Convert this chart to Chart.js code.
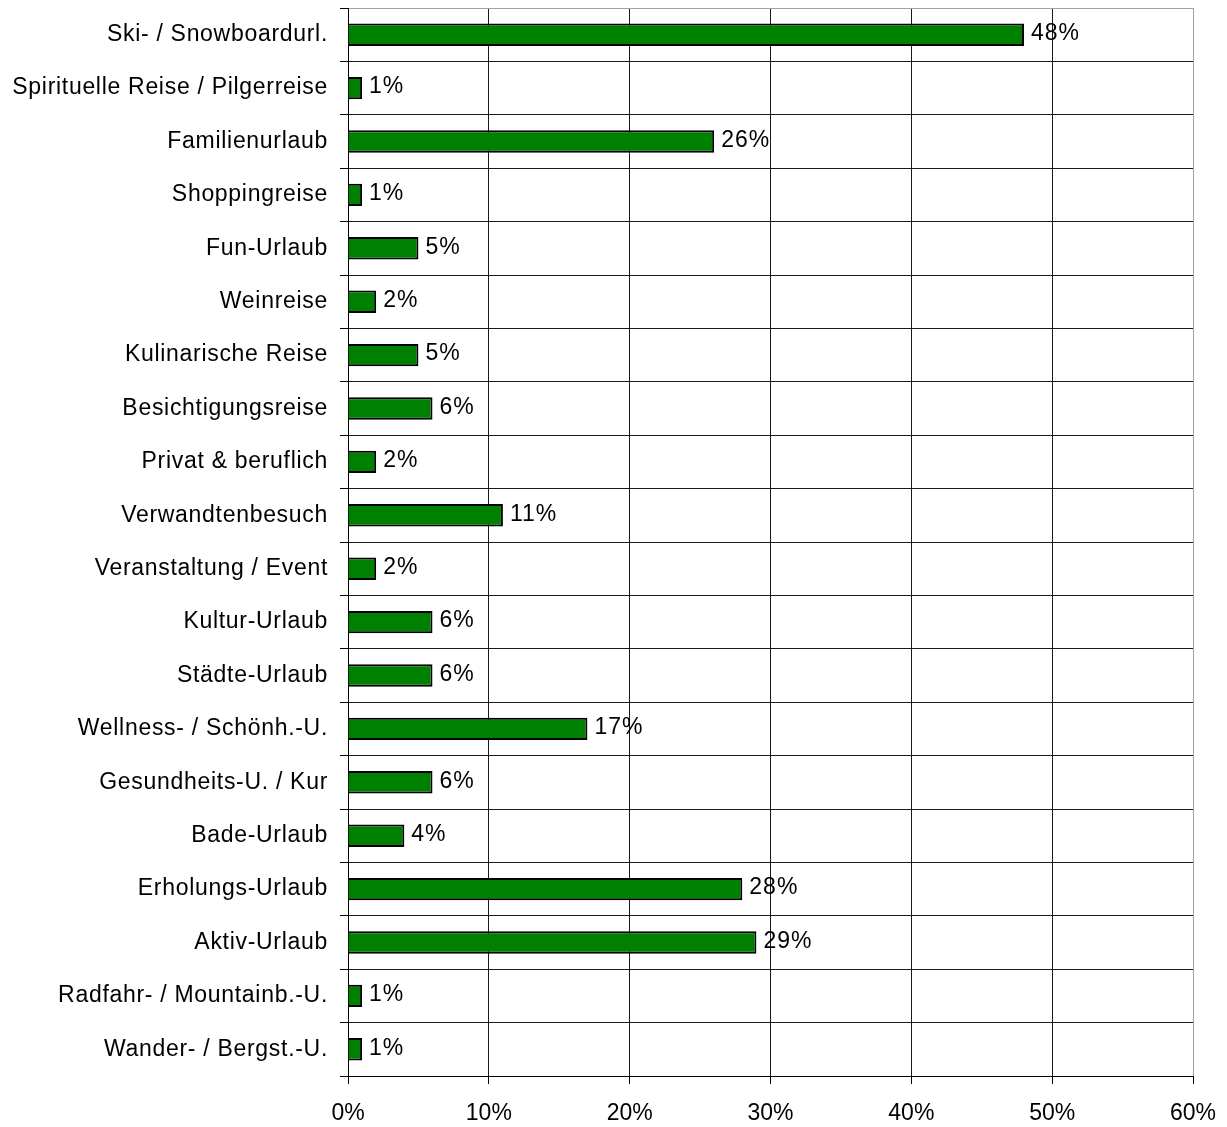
<!DOCTYPE html>
<html>
<head>
<meta charset="utf-8">
<script src="https://cdn.jsdelivr.net/npm/chart.js@4"></script>
<style>
html,body{margin:0;padding:0;background:#fff;}
#wrap{width:1227px;height:1127px;position:relative;}
</style>
</head>
<body>
<div id="wrap"><canvas id="c"></canvas></div>
<script>
const categories = [
  "Ski- / Snowboardurl.",
  "Spirituelle Reise / Pilgerreise",
  "Familienurlaub",
  "Shoppingreise",
  "Fun-Urlaub",
  "Weinreise",
  "Kulinarische Reise",
  "Besichtigungsreise",
  "Privat & beruflich",
  "Verwandtenbesuch",
  "Veranstaltung / Event",
  "Kultur-Urlaub",
  "Städte-Urlaub",
  "Wellness- / Schönh.-U.",
  "Gesundheits-U. / Kur",
  "Bade-Urlaub",
  "Erholungs-Urlaub",
  "Aktiv-Urlaub",
  "Radfahr- / Mountainb.-U.",
  "Wander- / Bergst.-U."
];
const values = [48, 1, 26, 1, 5, 2, 5, 6, 2, 11, 2, 6, 6, 17, 6, 4, 28, 29, 1, 1];
const xTicks = [0, 10, 20, 30, 40, 50, 60];

const FONT = "'Liberation Sans', Arial, sans-serif";

const labelPlugin = {
  id: 'valueLabels',
  afterDatasetsDraw(chart) {
    const ctx = chart.ctx;
    const meta = chart.getDatasetMeta(0);
    ctx.save();
    ctx.font = "23px " + FONT;
    ctx.letterSpacing = "1px";
    ctx.fillStyle = "#000";
    ctx.textAlign = "left";
    ctx.textBaseline = "middle";
    meta.data.forEach((el, i) => {
      ctx.fillText(values[i] + "%", el.x + 7, el.y - 1);
    });
    ctx.restore();
  }
};

function wrapLabels(scale, spacing) {
  if (scale._lsWrapped) return;
  const orig = scale.drawLabels.bind(scale);
  scale.drawLabels = function (area) {
    const ctx = this.ctx;
    const old = ctx.letterSpacing;
    ctx.letterSpacing = spacing;
    orig(area);
    ctx.letterSpacing = old || "0px";
  };
  scale._lsWrapped = true;
}

new Chart(document.getElementById('c'), {
  type: 'bar',
  data: {
    labels: categories,
    datasets: [{
      data: values,
      backgroundColor: '#008000',
      borderColor: '#000',
      borderWidth: 2,
      barPercentage: 0.42,
      categoryPercentage: 1.0
    }]
  },
  options: {
    indexAxis: 'y',
    responsive: true,
    maintainAspectRatio: false,
    animation: false,
    layout: { padding: { top: 8, right: 34, left: 0, bottom: 0 } },
    plugins: { legend: { display: false }, tooltip: { enabled: false } },
    scales: {
      x: {
        min: 0, max: 60,
        afterBuildTicks(scale) { scale.ticks = xTicks.map(v => ({ value: v })); },
        afterFit(scale) { scale.height = 51; scale.paddingLeft = 0; scale.paddingRight = 0; wrapLabels(scale, "0px"); },
        border: { color: '#000', width: 1 },
        grid: {
          color: (c) => (c.tick && c.tick.value === 60) ? '#a0a0a0' : '#1a1a1a',
          tickColor: '#000',
          tickLength: 8,
          lineWidth: 1
        },
        ticks: {
          font: { family: FONT, size: 23 },
          color: '#000',
          padding: 16,
          maxRotation: 0,
          callback: (v) => v + '%'
        }
      },
      y: {
        afterFit(scale) { scale.width = 348; scale.paddingTop = 0; scale.paddingBottom = 0; wrapLabels(scale, "0.7px"); },
        border: { color: '#000', width: 1 },
        grid: {
          offset: true,
          color: (c) => c.index === 0 ? '#a0a0a0' : '#1a1a1a',
          tickColor: '#000',
          tickLength: 8,
          lineWidth: 1
        },
        ticks: {
          font: { family: FONT, size: 23 },
          color: '#000',
          padding: 12,
          autoSkip: false
        }
      }
    }
  },
  plugins: [labelPlugin]
});
</script>
</body>
</html>
